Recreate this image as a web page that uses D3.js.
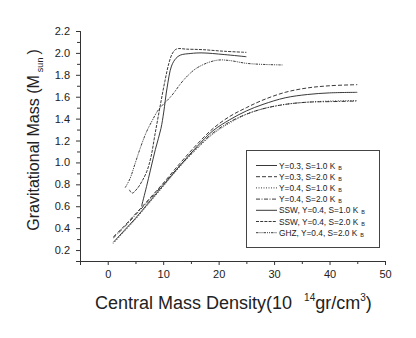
<!DOCTYPE html>
<meta charset="utf-8">
<script src="https://d3js.org/d3.v7.min.js"></script>
<style>
  body { margin: 0; background: #fff; }
  text { font-family: "Liberation Sans", Arial, Helvetica, sans-serif; fill: #222; }
</style>
<body>
<div id="canvas"></div>
<script>
// series: [density, mass]
var y03s1 = [[1,0.27],[3,0.38],[5,0.49],[7,0.61],[10,0.79],[13,0.97],[16,1.14],[19,1.29],[22,1.39],[25,1.47],[28,1.53],[32,1.59],[36,1.62],[40,1.635],[45,1.64]];
var y03s2 = [[1,0.32],[3,0.42],[5,0.53],[7,0.64],[10,0.81],[13,0.99],[16,1.16],[19,1.31],[22,1.42],[25,1.50],[28,1.57],[32,1.64],[36,1.68],[40,1.70],[45,1.71]];
var y04s1 = [[1,0.26],[3,0.37],[5,0.48],[7,0.60],[10,0.78],[13,0.96],[16,1.12],[19,1.26],[22,1.36],[25,1.44],[28,1.49],[32,1.53],[36,1.55],[40,1.56],[45,1.565]];
var y04s2 = [[1,0.31],[3,0.41],[5,0.52],[7,0.63],[10,0.80],[13,0.97],[16,1.13],[19,1.27],[22,1.37],[25,1.44],[28,1.49],[32,1.53],[36,1.55],[40,1.555],[45,1.56]];
var sswS1 = [[6.1,0.60],[7,0.78],[7.7,0.93],[8.6,1.12],[9.6,1.31],[10.1,1.46],[10.7,1.68],[11.5,1.88],[12.3,1.95],[13.1,1.98],[15,1.995],[17,2.0],[21,1.985],[25,1.965]];
var sswS2 = [[3.9,0.75],[4.4,0.72],[5.3,0.76],[6.2,0.83],[7.06,0.92],[7.8,1.05],[8.5,1.25],[9.4,1.50],[10.3,1.74],[11.0,1.90],[11.6,1.99],[12.2,2.03],[12.8,2.04],[14,2.035],[17,2.03],[21,2.015],[25,2.005]];
var ghz = [[3.15,0.77],[4,0.85],[5,1.0],[6,1.15],[7,1.28],[8,1.38],[9,1.47],[10,1.53],[11,1.58],[12,1.64],[13,1.71],[14,1.77],[15,1.82],[16,1.86],[18,1.91],[20,1.935],[22,1.93],[25,1.905],[28,1.895],[31.5,1.89]];

var seriesNames = ["Y=0.3, S=1.0 K", "Y=0.3, S=2.0 K", "Y=0.4, S=1.0 K", "Y=0.4, S=2.0 K",
                   "SSW, Y=0.4, S=1.0 K", "SSW, Y=0.4, S=2.0 K", "GHZ, Y=0.4, S=2.0 K"];
var seriesData = [y03s1, y03s2, y04s1, y04s2, sswS1, sswS2, ghz];
var dashes = ["none", "4,2", "1,1.5", "4,1.5,1,1.5", "none", "3,1.2", "2.5,1,1,1,1,1"];

var xMajor = [0, 10, 20, 30, 40, 50];
var xMinor = [-5, 5, 15, 25, 35, 45];
var yMajor = [0.2, 0.4, 0.6, 0.8, 1.0, 1.2, 1.4, 1.6, 1.8, 2.0, 2.2];
var yMinor = [0.1, 0.3, 0.5, 0.7, 0.9, 1.1, 1.3, 1.5, 1.7, 1.9, 2.1];

var width = 416, height = 338;
var svg = d3.select("#canvas").append("svg")
  .attr("width", width).attr("height", height);

var x = d3.scaleLinear().domain([-5, 50]).range([80, 385]);
var y = d3.scaleLinear().domain([0.1, 2.2]).range([261, 31]);

// axes: minor ticks first, then major with labels
function styleAxis(g) {
  g.select(".domain").attr("stroke", "#333");
  g.selectAll(".tick line").attr("stroke", "#333");
  g.selectAll(".tick text").style("font-size", "11px").attr("fill", "#222");
}
svg.append("g").attr("transform", "translate(0,261)")
  .call(d3.axisBottom(x).tickValues(xMinor).tickSize(3).tickFormat(""))
  .call(styleAxis);
svg.append("g").attr("transform", "translate(0,261)")
  .call(d3.axisBottom(x).tickValues(xMajor).tickSize(4).tickPadding(5).tickFormat(d3.format("d")))
  .call(styleAxis);
svg.append("g").attr("transform", "translate(80,0)")
  .call(d3.axisLeft(y).tickValues(yMinor).tickSize(3).tickFormat(""))
  .call(styleAxis);
svg.append("g").attr("transform", "translate(80,0)")
  .call(d3.axisLeft(y).tickValues(yMajor).tickSize(4).tickPadding(6).tickFormat(d3.format(".1f")))
  .call(styleAxis);

// curves
var line = d3.line()
  .x(function(d){ return x(d[0]); })
  .y(function(d){ return y(d[1]); })
  .curve(d3.curveCatmullRom.alpha(0.5));

seriesData.forEach(function(s, i) {
  svg.append("path")
    .attr("d", line(s))
    .attr("fill", "none")
    .attr("stroke", "#222")
    .attr("stroke-width", 0.9)
    .attr("stroke-dasharray", dashes[i]);
});

// legend
var lg = svg.append("g");
lg.append("rect").attr("x", 246.5).attr("y", 150.5).attr("width", 133).attr("height", 97)
  .attr("fill", "#fff").attr("stroke", "#444").attr("stroke-width", 1);
seriesNames.forEach(function(name, i) {
  var yy = 165.5 + i * 11.2;
  lg.append("line").attr("x1", 256).attr("x2", 277).attr("y1", yy).attr("y2", yy)
    .attr("stroke", "#222").attr("stroke-width", 0.9).attr("stroke-dasharray", dashes[i]);
  var t = lg.append("text").attr("x", 279).attr("y", yy + 3).style("font-size", "8.3px");
  t.append("tspan").text(name);
  t.append("tspan").attr("dx", 3).attr("dy", 1).style("font-size", "5.5px").text("B");
});

// axis titles
var yt = svg.append("text")
  .attr("transform", "translate(39,140) rotate(-90)")
  .attr("text-anchor", "middle")
  .style("font-size", "16px");
yt.append("tspan").text("Gravitational Mass (M");
yt.append("tspan").attr("dx", 3).attr("dy", 4).style("font-size", "9px").text("sun");
yt.append("tspan").attr("dx", 3).attr("dy", -4).text(")");

var xt = svg.append("text")
  .attr("x", 95).attr("y", 309)
  .style("font-size", "18px");
xt.append("tspan").text("Central Mass Density(10");
xt.append("tspan").attr("dx", 12).attr("dy", -8).style("font-size", "10px").text("14");
xt.append("tspan").attr("dy", 8).text("gr/cm");
xt.append("tspan").attr("dy", -8).style("font-size", "10px").text("3");
xt.append("tspan").attr("dy", 8).text(")");
</script>
</body>
